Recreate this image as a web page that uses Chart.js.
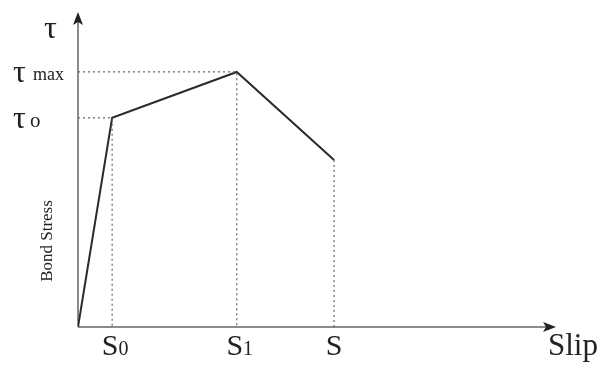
<!DOCTYPE html>
<html>
<head>
<meta charset="utf-8">
<script src="https://cdn.jsdelivr.net/npm/chart.js@4"></script>
<style>
  html, body { margin: 0; padding: 0; background: #fff; }
  #wrap { width: 605px; height: 367px; }
</style>
</head>
<body>
<div id="wrap"><canvas id="myChart"></canvas></div>
<script>
// Bond stress - slip curve (arbitrary units)
const slipValues = [0, 1, 4.65, 7.5];
const stressValues = [0, 0.82, 1, 0.655];
const slipTickLabels = ['S0', 'S1', 'S'];
const stressTickLabels = ['τo', 'τmax'];
const slipMax = 14;
const stressMax = 1.235;

const curve = slipValues.map((s, i) => ({ x: s, y: stressValues[i] }));

// dotted guides from each corner point down to the slip axis / over to the stress axis
const guides = [];
for (let i = 1; i < slipValues.length; i++) {
    const pts = [{ x: slipValues[i], y: 0 }, { x: slipValues[i], y: stressValues[i] }];
    if (i < 3) pts.push({ x: 0, y: stressValues[i] });
    guides.push(pts.reverse());
}

// Axes with arrowheads and the serif labels
const sketchPlugin = {
    id: 'sketch',
    beforeDatasetsDraw(chart) {
        const ctx = chart.ctx;
        const xs = chart.scales.x, ys = chart.scales.y;
        const x0 = xs.getPixelForValue(0), y0 = ys.getPixelForValue(0);
        const xEnd = xs.getPixelForValue(slipMax), yEnd = ys.getPixelForValue(stressMax);
        ctx.save();
        ctx.strokeStyle = '#666';
        ctx.fillStyle = '#222';
        ctx.lineWidth = 1.5;
        ctx.beginPath();
        ctx.moveTo(x0, y0);
        ctx.lineTo(xEnd - 4, y0);
        ctx.moveTo(x0, y0);
        ctx.lineTo(x0, yEnd + 4);
        ctx.stroke();
        // arrow heads
        ctx.beginPath();
        ctx.moveTo(xEnd, y0);
        ctx.lineTo(xEnd - 13, y0 - 5);
        ctx.lineTo(xEnd - 10, y0);
        ctx.lineTo(xEnd - 13, y0 + 5);
        ctx.closePath();
        ctx.fill();
        ctx.beginPath();
        ctx.moveTo(x0, yEnd);
        ctx.lineTo(x0 - 5, yEnd + 13);
        ctx.lineTo(x0, yEnd + 10);
        ctx.lineTo(x0 + 5, yEnd + 13);
        ctx.closePath();
        ctx.fill();
        ctx.restore();
    },
    afterDraw(chart) {
        const ctx = chart.ctx;
        const xs = chart.scales.x, ys = chart.scales.y;
        const x0 = xs.getPixelForValue(0), y0 = ys.getPixelForValue(0);
        ctx.save();
        ctx.fillStyle = '#222';
        ctx.textBaseline = 'alphabetic';
        const serif = '"Liberation Serif", "DejaVu Serif", serif';

        // slip tick labels with subscripts
        slipTickLabels.forEach((lab, i) => {
            const px = xs.getPixelForValue(slipValues[i + 1]);
            const main = lab.charAt(0), sub = lab.slice(1);
            ctx.font = '30px ' + serif;
            const wMain = ctx.measureText(main).width;
            ctx.font = '20px ' + serif;
            const wSub = ctx.measureText(sub).width;
            const left = px - (wMain + wSub) / 2 + (sub ? 3 : 0);
            ctx.font = '30px ' + serif;
            ctx.textAlign = 'left';
            ctx.fillText(main, left, y0 + 28);
            if (sub) {
                ctx.font = '20px ' + serif;
                ctx.fillText(sub, left + wMain, y0 + 28);
            }
        });

        // stress tick labels
        ctx.textAlign = 'left';
        const yMax = ys.getPixelForValue(stressValues[2]);
        const yTo = ys.getPixelForValue(stressValues[1]);
        ctx.font = '32px ' + serif;
        ctx.fillText('τ', 13, yMax + 10);
        ctx.font = '18px ' + serif;
        ctx.fillText('max', 33, yMax + 8);
        ctx.font = '32px ' + serif;
        ctx.fillText('τ', 13, yTo + 10);
        ctx.font = '21px ' + serif;
        ctx.fillText('o', 30, yTo + 9);

        // axis titles
        ctx.font = '32px ' + serif;
        ctx.fillText('τ', 44, 38);
        ctx.font = '31px ' + serif;
        ctx.fillText('Slip', 548, y0 + 28);

        ctx.translate(52, 241);
        ctx.rotate(-Math.PI / 2);
        ctx.textAlign = 'center';
        ctx.font = '17px ' + serif;
        ctx.fillText('Bond Stress', 0, 0);
        ctx.restore();
    }
};

const datasets = guides.map(pts => ({
    data: pts,
    borderColor: '#666',
    borderWidth: 1.2,
    borderDash: [2, 3],
    pointRadius: 0,
    fill: false
}));
datasets.push({
    data: curve,
    borderColor: '#2b2b2b',
    borderWidth: 2,
    pointRadius: 0,
    fill: false
});

new Chart(document.getElementById('myChart'), {
    type: 'line',
    data: { datasets: datasets },
    options: {
        responsive: true,
        maintainAspectRatio: false,
        animation: false,
        layout: { padding: { left: 78, right: 49, top: 12, bottom: 40 } },
        plugins: { legend: { display: false }, tooltip: { enabled: false } },
        scales: {
            x: { type: 'linear', min: 0, max: slipMax, display: false },
            y: { type: 'linear', min: 0, max: stressMax, display: false }
        }
    },
    plugins: [sketchPlugin]
});
</script>
</body>
</html>
